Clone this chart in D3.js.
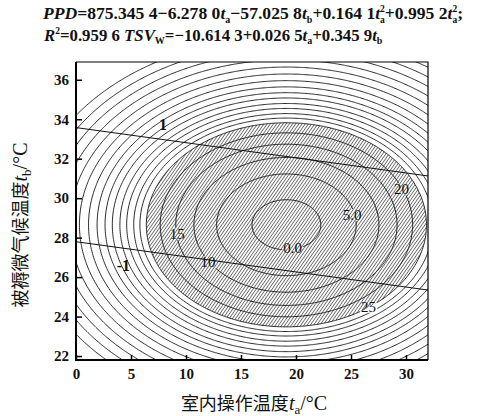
<!DOCTYPE html>
<html>
<head>
<meta charset="utf-8">
<script src="https://cdn.jsdelivr.net/npm/d3@7"></script>
<style>
  body { margin: 0; background: #fff; }
  svg { display: block; }
</style>
</head>
<body>
<main></main>
<script>
const width = 480;
const height = 416;

// PPD = c0 + c1*ta + c2*tb + c3*ta^2 + c4*tb^2  (fit printed above the chart)
const ppdCoef = [875.3454, -6.2780, -57.0258, 0.1641, 0.9952];
// TSV_W = c0 + c1*ta + c2*tb
const tsvCoef = [-10.6143, 0.0265, 0.3459];

const innerLevels = [0, 5, 10, 15, 20, 25];
const outerLevels = [27.5, 30, 33, 36, 39.5, 43, 47, 51.5, 56.5, 62, 68, 74.5, 81.5, 89];
const hatchLevel = 25;
const tsvLevels = [1, -1];

const xTicks = [0, 5, 10, 15, 20, 25, 30];
const yTicks = [22, 24, 26, 28, 30, 32, 34, 36];

const labelText = ["0.0", "5.0", "10", "15", "20", "25"];
const labelTa = [19.7, 25.1, 12.0, 9.2, 29.6, 26.6];
const labelTb = [27.5, 29.15, 26.75, 28.2, 30.45, 24.5];
const tsvLabelText = ["1", "-1"];
const tsvLabelTa = [7.9, 4.3];
const tsvLabelTb = [33.75, 26.6];

const titleLines = [
  [["PPD", "i"], ["=875.345 4−6.278 0"], ["t", "i"], ["a", "sub"], ["−57.025 8"], ["t", "i"], ["b", "sub"],
   ["+0.164 1"], ["t", "i"], ["2", "sup"], ["a", "subx"], ["+0.995 2"], ["t", "i"], ["2", "sup"], ["a", "subx"], [";"]],
  [["R", "i"], ["2", "sup"], ["=0.959 6 "], ["TSV", "i"], ["W", "sub"], ["=−10.614 3+0.026 5"], ["t", "i"], ["a", "sub"],
   ["+0.345 9"], ["t", "i"], ["b", "sub"]]
];

const serif = "'Liberation Serif', 'Times New Roman', serif";
const cjk = "'Noto Sans CJK SC', sans-serif";

const plot = {left: 76, right: 428, top: 62, bottom: 360};

const svg = d3.select("main")
              .append("svg")
              .attr("width", width)
              .attr("height", height);

svg.append("rect").attr("width", width).attr("height", height).attr("fill", "#fff");

const x = d3.scaleLinear().domain([0, 32]).range([plot.left, plot.right]);
const y = d3.scaleLinear().domain([21.8, 36.9]).range([plot.bottom, plot.top]);

const ppd = (ta, tb) => ppdCoef[0] + ppdCoef[1] * ta + ppdCoef[2] * tb + ppdCoef[3] * ta * ta + ppdCoef[4] * tb * tb;
const tsvLine = (level, ta) => (level - tsvCoef[0] - tsvCoef[1] * ta) / tsvCoef[2];

// grid is a bit wider than the frame so the ring edges fall outside the clip
const step = 0.1, gx0 = -1, gy0 = 20.8, nx = 341, ny = 172;
const grid = new Array(nx * ny);
for (let j = 0; j < ny; j++) {
  for (let i = 0; i < nx; i++) {
    grid[j * nx + i] = -ppd(gx0 + i * step, gy0 + j * step);
  }
}
const toPx = d3.geoTransform({
  point(px, py) { this.stream.point(x(gx0 + (px - 0.5) * step), y(gy0 + (py - 0.5) * step)); }
});
const path = d3.geoPath(toPx);
const contours = d3.contours().size([nx, ny]);

const defs = svg.append("defs");
defs.append("clipPath").attr("id", "clip")
    .append("rect")
    .attr("x", plot.left).attr("y", plot.top)
    .attr("width", plot.right - plot.left).attr("height", plot.bottom - plot.top);

const pattern = defs.append("pattern")
    .attr("id", "hatch")
    .attr("patternUnits", "userSpaceOnUse")
    .attr("width", 2.6).attr("height", 6)
    .attr("patternTransform", "rotate(35)");
pattern.append("line")
    .attr("x1", 1.3).attr("y1", 0).attr("x2", 1.3).attr("y2", 6)
    .attr("stroke", "#333").attr("stroke-width", 0.7);

const mask = defs.append("mask").attr("id", "breaks").attr("maskUnits", "userSpaceOnUse")
    .attr("x", 0).attr("y", 0).attr("width", width).attr("height", height);
mask.append("rect").attr("width", width).attr("height", height).attr("fill", "#fff");

const body = svg.append("g").attr("clip-path", "url(#clip)");

// shaded zone PPD <= 25
body.append("path")
    .attr("d", path(contours.contour(grid, -hatchLevel)))
    .attr("fill", "url(#hatch)")
    .attr("stroke", "none");

const lines = body.append("g").attr("mask", "url(#breaks)");
lines.selectAll("path")
     .data(innerLevels.concat(outerLevels))
     .enter()
     .append("path")
     .attr("d", (d) => path(contours.contour(grid, -d)))
     .attr("fill", "none")
     .attr("stroke", "#111")
     .attr("stroke-width", 0.9);

body.selectAll(".tsv")
    .data(tsvLevels)
    .enter()
    .append("path")
    .attr("class", "tsv")
    .attr("d", (d) => d3.line()([[x(0), y(tsvLine(d, 0))], [x(32), y(tsvLine(d, 32))]]))
    .attr("fill", "none")
    .attr("stroke", "#111")
    .attr("stroke-width", 1);

const labels = svg.append("g")
    .attr("font-family", serif)
    .attr("font-size", 15)
    .attr("fill", "#111")
    .attr("text-anchor", "middle")
    .attr("dominant-baseline", "central");
labels.selectAll("text")
      .data(labelText)
      .enter()
      .append("text")
      .attr("x", (d, i) => x(labelTa[i]))
      .attr("y", (d, i) => y(labelTb[i]))
      .text((d) => d)
      .each(function () {
        const b = this.getBBox();
        mask.append("rect")
            .attr("x", b.x - 1).attr("y", b.y + 2)
            .attr("width", b.width + 2).attr("height", b.height - 4)
            .attr("fill", "#000");
      });

svg.append("g")
   .attr("font-family", serif)
   .attr("font-size", 16)
   .attr("font-weight", "bold")
   .attr("fill", "#111")
   .attr("text-anchor", "middle")
   .attr("dominant-baseline", "central")
   .selectAll("text")
   .data(tsvLabelText)
   .enter()
   .append("text")
   .attr("x", (d, i) => x(tsvLabelTa[i]))
   .attr("y", (d, i) => y(tsvLabelTb[i]))
   .text((d) => d);

// axes with inward ticks
const xAxis = svg.append("g")
    .attr("transform", `translate(0, ${plot.bottom})`)
    .call(d3.axisBottom(x).tickValues(xTicks).tickSizeInner(-5).tickSizeOuter(0).tickPadding(8));
const yAxis = svg.append("g")
    .attr("transform", `translate(${plot.left}, 0)`)
    .call(d3.axisLeft(y).tickValues(yTicks).tickSizeInner(-6).tickSizeOuter(0).tickPadding(7));
[xAxis, yAxis].forEach((g) => {
  g.select(".domain").remove();
  g.selectAll(".tick line").attr("stroke", "#000").attr("stroke-width", 1.5);
  g.selectAll(".tick text")
   .attr("font-family", serif)
   .attr("font-size", 15)
   .attr("font-weight", "bold")
   .attr("fill", "#111");
});

// frame: heavy left/bottom, light top/right
svg.append("path")
   .attr("d", `M${plot.left},${plot.top}H${plot.right}V${plot.bottom}`)
   .attr("fill", "none").attr("stroke", "#000").attr("stroke-width", 1.2);
svg.append("path")
   .attr("d", `M${plot.left},${plot.top}V${plot.bottom}H${plot.right}`)
   .attr("fill", "none").attr("stroke", "#000").attr("stroke-width", 2);

// axis titles
const xTitle = svg.append("text")
    .attr("x", 254).attr("y", 410)
    .attr("text-anchor", "middle")
    .attr("font-family", cjk)
    .attr("font-size", 18)
    .attr("fill", "#111");
xTitle.append("tspan").text("室内操作温度");
xTitle.append("tspan").attr("font-family", serif).attr("font-style", "italic").attr("font-size", 20).text("t");
xTitle.append("tspan").attr("font-family", serif).attr("font-size", 13).attr("dy", 4).text("a");
xTitle.append("tspan").attr("font-family", serif).attr("font-size", 20).attr("dy", -4).text("/°C");

const yTitle = svg.append("text")
    .attr("transform", "translate(27, 225) rotate(-90)")
    .attr("text-anchor", "middle")
    .attr("font-family", cjk)
    .attr("font-size", 18)
    .attr("fill", "#111");
yTitle.append("tspan").text("被褥微气候温度");
yTitle.append("tspan").attr("font-family", serif).attr("font-style", "italic").attr("font-size", 20).text("t");
yTitle.append("tspan").attr("font-family", serif).attr("font-size", 13).attr("dy", 4).text("b");
yTitle.append("tspan").attr("font-family", serif).attr("font-size", 20).attr("dy", -4).text("/°C");

// title with the two fitted equations
const drawEquation = (parts, x0, y0, size) => {
  const t = svg.append("text")
      .attr("x", x0).attr("y", y0)
      .attr("font-family", serif)
      .attr("font-size", size)
      .attr("font-weight", "bold")
      .attr("fill", "#111");
  let shift = 0;
  parts.forEach(([s, kind]) => {
    const target = kind === "sub" ? 3.5 : kind === "subx" ? 4 : kind === "sup" ? -7 : 0;
    const sp = t.append("tspan").attr("dy", target - shift).text(s);
    shift = target;
    if (kind === "i") sp.attr("font-style", "italic");
    if (kind === "sub") sp.attr("font-size", 10);
    if (kind === "sup" || kind === "subx") sp.attr("font-size", 9.5);
    if (kind === "subx") sp.attr("dx", -4.8);
  });
  return t;
};
drawEquation(titleLines[0], 43, 19, 17.6);
drawEquation(titleLines[1], 44, 40.5, 16.8);
</script>
</body>
</html>
